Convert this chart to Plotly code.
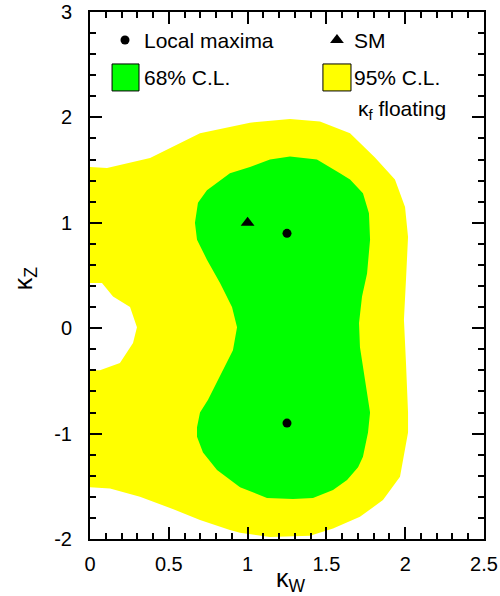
import plotly.graph_objects as go

# 95% C.L. region outline (kappa_W, kappa_Z); hole near origin traced along kw=0
cl95_kw = [0.0, 0.108, 0.381, 0.698, 1.015, 1.269, 1.459, 1.650, 1.808, 1.935, 1.999, 2.018,
           2.005, 1.992, 2.005, 2.018, 2.018, 1.967, 1.859, 1.713, 1.542, 1.396, 1.142, 0.952,
           0.888, 0.698, 0.508, 0.317, 0.127, 0.0,
           0.0, 0.063, 0.190, 0.273, 0.298, 0.254, 0.146, 0.076, 0.0, 0.0]
cl95_kz = [1.53, 1.52, 1.615, 1.85, 1.95, 1.985, 1.96, 1.85, 1.62, 1.41, 1.15, 0.865,
           0.46, 0.08, -0.33, -0.80, -0.99, -1.41, -1.63, -1.79, -1.90, -1.97, -1.98, -1.94,
           -1.915, -1.82, -1.705, -1.60, -1.52, -1.51,
           -0.40, -0.40, -0.33, -0.14, 0.01, 0.20, 0.30, 0.43, 0.43, 1.53]

# 68% C.L. region outline
cl68_kw = [1.015, 1.142, 1.269, 1.440, 1.586, 1.650, 1.732, 1.770, 1.777, 1.758, 1.726, 1.707,
           1.713, 1.745, 1.777, 1.764, 1.732, 1.701, 1.631, 1.542, 1.415, 1.288, 1.123, 0.952,
           0.806, 0.717, 0.679, 0.679, 0.698, 0.749, 0.825, 0.907, 0.933, 0.901, 0.825, 0.742,
           0.679, 0.666, 0.685, 0.742, 0.888, 1.015]
cl68_kz = [1.53, 1.60, 1.63, 1.60, 1.47, 1.41, 1.28, 1.09, 0.84, 0.52, 0.30, 0.05,
           -0.18, -0.49, -0.80, -0.99, -1.22, -1.32, -1.44, -1.535, -1.61, -1.62, -1.61, -1.51,
           -1.345, -1.18, -1.03, -0.94, -0.80, -0.68, -0.46, -0.21, 0.01, 0.20, 0.43, 0.65,
           0.84, 1.00, 1.19, 1.31, 1.47, 1.53]

# Local maxima and SM point
max_kw = [1.25, 1.25]
max_kz = [0.9, -0.9]
sm_kw = [1.0]
sm_kz = [1.0]

x_tickvals = [0, 0.5, 1, 1.5, 2, 2.5]
x_ticktext = ["0", "0.5", "1", "1.5", "2", "2.5"]
y_tickvals = [-2, -1, 0, 1, 2, 3]
y_ticktext = ["-2", "-1", "0", "1", "2", "3"]

YELLOW = "#ffff00"
GREEN = "#00ff00"
FONT = "Liberation Sans, Arial, Helvetica, sans-serif"

fig = go.Figure()
fig.add_trace(go.Scatter(x=cl95_kw, y=cl95_kz, fill="toself", fillcolor=YELLOW,
                         mode="lines", line=dict(width=0, color=YELLOW),
                         hoverinfo="skip", showlegend=False))
fig.add_trace(go.Scatter(x=cl68_kw, y=cl68_kz, fill="toself", fillcolor=GREEN,
                         mode="lines", line=dict(width=0, color=GREEN),
                         hoverinfo="skip", showlegend=False))
fig.add_trace(go.Scatter(x=max_kw, y=max_kz, mode="markers",
                         marker=dict(symbol="circle", size=9, color="black"),
                         showlegend=False))
fig.add_trace(go.Scatter(x=sm_kw, y=sm_kz, mode="markers",
                         marker=dict(symbol="triangle-up", size=12, color="black"),
                         showlegend=False))

# Legend symbols (drawn inside the frame)
fig.add_trace(go.Scatter(x=[0.222], y=[2.734], mode="markers",
                         marker=dict(symbol="circle", size=9, color="black"),
                         showlegend=False, hoverinfo="skip"))
fig.add_trace(go.Scatter(x=[1.567], y=[2.734], mode="markers",
                         marker=dict(symbol="triangle-up", size=12, color="black"),
                         showlegend=False, hoverinfo="skip"))
# invisible trace to activate mirrored axes
fig.add_trace(go.Scatter(x=[None], y=[None], xaxis="x2", yaxis="y2",
                         showlegend=False, hoverinfo="skip"))

fig.add_shape(type="rect", x0=0.140, x1=0.311, y0=2.251, y1=2.507,
              fillcolor=GREEN, line=dict(color="black", width=1))
fig.add_shape(type="rect", x0=1.478, x1=1.656, y0=2.251, y1=2.507,
              fillcolor=YELLOW, line=dict(color="black", width=1))

ann_font = dict(family=FONT, size=21, color="black")
for x, y, t in [(0.33, 2.734, "Local maxima"), (1.665, 2.734, "SM"),
                (0.33, 2.38, "68% C.L."), (1.665, 2.38, "95% C.L."),
                (1.69, 2.07, "κ<sub>f</sub> floating")]:
    fig.add_annotation(x=x, y=y, text=t, showarrow=False, xanchor="left",
                       yanchor="middle", font=ann_font)

# axis titles
fig.add_annotation(xref="paper", yref="paper", x=0.51, y=-0.078, text="κ<sub>W</sub>",
                   showarrow=False, xanchor="center", yanchor="middle",
                   font=dict(family=FONT, size=25, color="black"))
fig.add_annotation(xref="paper", yref="paper", x=-0.165, y=0.495, text="κ<sub>Z</sub>",
                   showarrow=False, xanchor="center", yanchor="middle", textangle=-90,
                   font=dict(family=FONT, size=25, color="black"))

tick_common = dict(
    showgrid=False, zeroline=False, showline=True, linecolor="black", linewidth=2,
    ticks="inside", ticklen=12, tickwidth=1.5, tickcolor="black", automargin=False,
    tickfont=dict(family=FONT, size=20, color="black"), ticklabeloverflow="allow",
)
minor_x = dict(dtick=0.1, ticks="inside", ticklen=6, tickwidth=1.5,
               tickcolor="black", showgrid=False)
minor_y = dict(dtick=0.2, ticks="inside", ticklen=6, tickwidth=1.5,
               tickcolor="black", showgrid=False)

fig.update_layout(
    xaxis=dict(range=[0, 2.5], tickvals=x_tickvals, ticktext=x_ticktext, minor=minor_x,
               ticklabelstandoff=6, **tick_common),
    yaxis=dict(range=[-2, 3], tickvals=y_tickvals, ticktext=y_ticktext, minor=minor_y,
               ticklabelstandoff=12, **tick_common),
    xaxis2=dict(range=[0, 2.5], tickvals=x_tickvals, minor=minor_x, overlaying="x",
                side="top", anchor="y", showticklabels=False, **tick_common),
    yaxis2=dict(range=[-2, 3], tickvals=y_tickvals, minor=minor_y, overlaying="y",
                side="right", anchor="x", showticklabels=False, **tick_common),
    width=500, height=596, margin=dict(l=90, r=16, t=12, b=57),
    plot_bgcolor="white", paper_bgcolor="white", showlegend=False,
)

fig.write_html("out.html", config={"displayModeBar": False},
               post_script="document.body.style.margin='0';document.body.style.overflow='hidden';")
